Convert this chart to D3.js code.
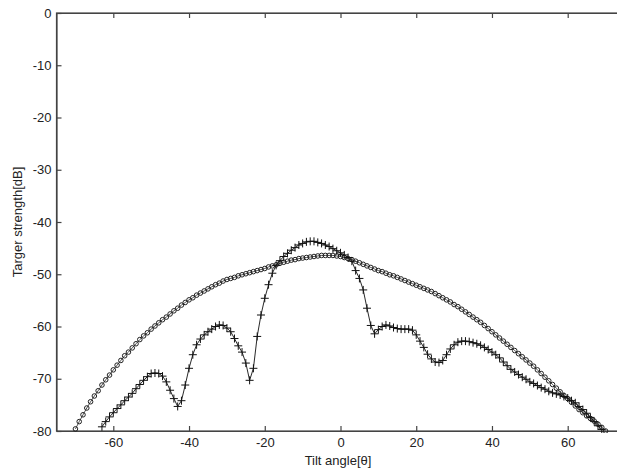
<!DOCTYPE html>
<html>
<head>
<meta charset="utf-8">
<script src="https://cdn.jsdelivr.net/npm/d3@7"></script>
<style>
  html, body { margin: 0; padding: 0; background: #fff; }
  svg text { font-family: "Liberation Sans", Arial, sans-serif; }
</style>
</head>
<body>
<svg id="chart" width="617" height="472"></svg>
<script>
// ---- data ----
const xTicks = [-60, -40, -20, 0, 20, 40, 60];
const yTicks = [0, -10, -20, -30, -40, -50, -60, -70, -80];

// circle series: tilt angle -70..70, step 1 degree
const circleStart = -70;
const circleValues = [
  -79.6, -78.2, -76.9, -75.6, -74.4, -73.3, -72.3, -71.2, -70.2, -69.3,
  -68.3, -67.4, -66.5, -65.6, -64.9, -64.1, -63.3, -62.5, -61.8, -61.2,
  -60.5, -59.9, -59.3, -58.7, -58.2, -57.6, -57.0, -56.5, -55.9, -55.4,
  -54.9, -54.5, -54.0, -53.6, -53.2, -52.8, -52.4, -52.0, -51.7, -51.3,
  -51.0, -50.8, -50.6, -50.3, -50.1, -49.9, -49.7, -49.5, -49.3, -49.1,
  -48.9, -48.6, -48.4, -48.2, -47.9, -47.7, -47.5, -47.3, -47.2, -47.0,
  -46.9, -46.8, -46.7, -46.6, -46.5, -46.4, -46.4, -46.4, -46.4, -46.5,
  -46.6,
  -46.8, -47.0, -47.2, -47.5, -47.8, -48.1, -48.4, -48.7, -49.0, -49.3,
  -49.5, -49.8, -50.1, -50.3, -50.6, -50.9, -51.2, -51.5, -51.8, -52.1,
  -52.4, -52.7, -53.0, -53.3, -53.7, -54.1, -54.5, -54.9, -55.3, -55.8,
  -56.2, -56.7, -57.2, -57.7, -58.2, -58.7, -59.2, -59.8, -60.4, -61.0,
  -61.6, -62.2, -62.8, -63.4, -64.0, -64.6, -65.2, -65.8, -66.4, -67.0,
  -67.6, -68.3, -69.0, -69.7, -70.4, -71.1, -71.8, -72.5, -73.2, -73.8,
  -74.5, -75.2, -75.9, -76.5, -77.1, -77.6, -78.1, -78.7, -79.3, -80.0
];

// plus series: tilt angle -63..69, step 1 degree
const plusStart = -63;
const plusValues = [
  -79.2, -78.2, -77.3, -76.5, -75.7, -75.0, -74.2, -73.5, -72.8, -71.9,
  -71.1, -70.3, -69.6, -69.0, -68.9, -69.0, -69.5, -70.6, -72.2, -73.8,
  -75.3, -74.2, -71.2, -68.0, -65.4, -63.5, -62.4, -61.6, -61.0, -60.5,
  -60.0, -59.7, -59.8, -60.3, -61.0, -62.3, -63.7, -64.9, -67.0, -70.3,
  -68.0, -61.9, -57.8, -54.6, -52.0, -49.8, -48.3, -47.4, -46.6, -46.0,
  -45.4, -44.9, -44.4, -44.1, -43.8, -43.7, -43.7, -43.9, -44.1, -44.4,
  -44.7, -45.1, -45.5, -45.9,
  -46.3, -46.8, -47.5, -49.3, -50.8, -53.0, -56.5, -59.8, -61.4, -60.6,
  -60.0, -59.7, -59.9, -60.2, -60.4, -60.5, -60.5, -60.5, -60.7, -61.6,
  -62.8, -64.0, -65.3, -66.2, -66.8, -66.9, -66.5, -65.4, -64.3, -63.5,
  -63.0, -62.8, -62.8, -62.9, -63.1, -63.3, -63.6, -64.0, -64.4, -64.9,
  -65.4, -66.0, -66.8, -67.5, -68.2, -68.7, -69.2, -69.7, -70.1, -70.6,
  -70.9, -71.3, -71.7, -72.0, -72.4, -72.7, -72.9, -73.1, -73.4, -73.7,
  -74.2, -74.6, -75.3, -75.9, -76.6, -77.4, -78.2, -79.0, -79.7
];

const xLabel = "Tilt angle[\u03B8]";
const yLabel = "Targer strength[dB]";

// ---- layout ----
const svg = d3.select("#chart");
const mLeft = 56.5, mTop = 13, mBottom = 431;
const x = d3.scaleLinear().domain([-75, 75]).range([mLeft, 624.5]);
const y = d3.scaleLinear().domain([-80, 0]).range([mBottom, mTop]);

const axisColor = "#444";
const textColor = "#222";
const fmt = d => String(d);   // plain hyphen-minus like the reference

// frame (right edge lies outside the picture)
svg.append("rect")
  .attr("x", mLeft).attr("y", mTop)
  .attr("width", x(75) - mLeft).attr("height", mBottom - mTop)
  .attr("fill", "none").attr("stroke", axisColor).attr("stroke-width", 1.2);

// bottom axis
svg.append("g").attr("transform", `translate(0,${mBottom})`)
  .call(d3.axisBottom(x).tickValues(xTicks).tickFormat(fmt)
    .tickSizeInner(-5).tickSizeOuter(0).tickPadding(7));
// top ticks
svg.append("g").attr("transform", `translate(0,${mTop})`)
  .call(d3.axisTop(x).tickValues(xTicks).tickSizeInner(-5).tickSizeOuter(0).tickFormat(""));
// left axis
svg.append("g").attr("transform", `translate(${mLeft},0)`)
  .call(d3.axisLeft(y).tickValues(yTicks).tickFormat(fmt)
    .tickSizeInner(-5).tickSizeOuter(0).tickPadding(5));

svg.selectAll(".domain").attr("stroke", axisColor).attr("stroke-width", 1.2);
svg.selectAll(".tick line").attr("stroke", axisColor).attr("stroke-width", 1.2);
svg.selectAll(".tick text").attr("fill", textColor).style("font-size", "13px");

// axis titles
svg.append("text").attr("x", 338).attr("y", 465)
  .attr("text-anchor", "middle").attr("fill", textColor)
  .style("font-size", "13px").text(xLabel);
svg.append("text")
  .attr("transform", `translate(22,${(mTop + mBottom) / 2}) rotate(-90)`)
  .attr("text-anchor", "middle").attr("fill", textColor)
  .style("font-size", "13px").text(yLabel);

// clip to plot area
svg.append("clipPath").attr("id", "clip").append("rect")
  .attr("x", mLeft).attr("y", mTop - 2).attr("width", x(75) - mLeft).attr("height", mBottom - mTop + 4);
const plot = svg.append("g").attr("clip-path", "url(#clip)");

const circleData = circleValues.map((v, i) => ({ a: circleStart + i, v }));
const plusData = plusValues.map((v, i) => ({ a: plusStart + i, v }));

const line = d3.line().x(d => x(d.a)).y(d => y(d.v));

// circle series
plot.append("path").datum(circleData)
  .attr("d", line).attr("fill", "none").attr("stroke", "#222").attr("stroke-width", 0.8);
plot.selectAll("circle.c").data(circleData).enter().append("circle")
  .attr("class", "c")
  .attr("cx", d => x(d.a)).attr("cy", d => y(d.v)).attr("r", 2.3)
  .attr("fill", "none").attr("stroke", "#222").attr("stroke-width", 1);

// plus series
plot.append("path").datum(plusData)
  .attr("d", line).attr("fill", "none").attr("stroke", "#111").attr("stroke-width", 0.9);
const s = 4;
plot.selectAll("path.p").data(plusData).enter().append("path")
  .attr("class", "p")
  .attr("d", d => {
    const cx = x(d.a), cy = y(d.v);
    return `M${cx - s},${cy}H${cx + s}M${cx},${cy - s}V${cy + s}`;
  })
  .attr("fill", "none").attr("stroke", "#111").attr("stroke-width", 1);
</script>
</body>
</html>
